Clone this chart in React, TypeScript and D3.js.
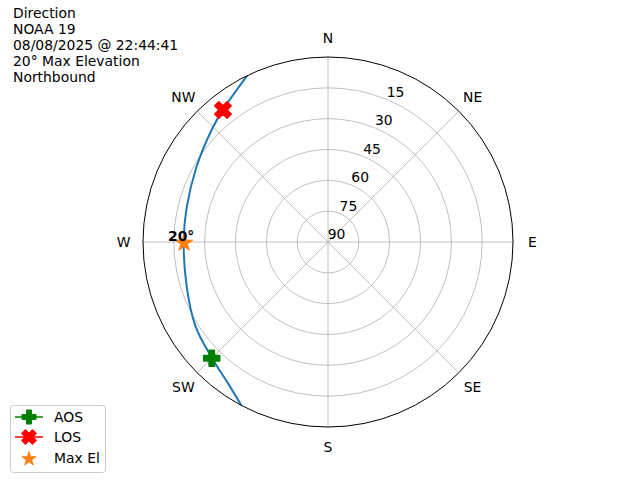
import React from "react";
import * as d3 from "d3";

const titleLines = ["Direction", "NOAA 19", "08/08/2025 @ 22:44:41", "20° Max Elevation", "Northbound"];
const dirLabels = ["N", "NE", "E", "SE", "S", "SW", "W", "NW"];
const dirAngles = [0, 45, 90, 135, 180, 225, 270, 315];
const elevTicks = [90, 75, 60, 45, 30, 15];
const trackAz = [207.9, 215, 225.4, 237.5, 252.4, 270.8, 284, 299.8, 313.9, 321.4, 334.1];
const trackEl = [0, 5.6, 10.3, 13.6, 17.9, 19.8, 19.2, 16.3, 11.4, 7.9, 0];
const aosPoint = { az: 225, el: 10 };
const losPoint = { az: 321.5, el: 7.9 };
const maxPoint = { az: 270, el: 20 };
const legendLabels = ["AOS", "LOS", "Max El"];

const W = 640, H = 480;
const cx = 328, cy = 242, R = 185;
const FONT = "DejaVu Sans";
const FS = 13.9;

const rScale = d3.scaleLinear().domain([90, 0]).range([0, R]);
const rad = (deg: number) => (deg * Math.PI) / 180;
const polar = (az: number, el: number): [number, number] => {
  const r = rScale(el);
  return [cx + r * Math.sin(rad(az)), cy - r * Math.cos(rad(az))];
};

function plusPath(s: number) {
  const a = s / 2, b = s / 6;
  const pts = [[-b, -a], [b, -a], [b, -b], [a, -b], [a, b], [b, b], [b, a], [-b, a], [-b, b], [-a, b], [-a, -b], [-b, -b]];
  return "M" + pts.map((p) => p.join(",")).join("L") + "Z";
}
function starPath(ro: number) {
  const ri = ro * 0.381966;
  const pts: string[] = [];
  for (let i = 0; i < 10; i++) {
    const r = i % 2 === 0 ? ro : ri;
    const ang = rad(i * 36);
    pts.push(`${r * Math.sin(ang)},${-r * Math.cos(ang)}`);
  }
  return "M" + pts.join("L") + "Z";
}

export default function App() {
  const line = d3
    .lineRadial<number>()
    .angle((_, i) => rad(trackAz[i]))
    .radius((_, i) => rScale(trackEl[i]))
    .curve(d3.curveCatmullRom);
  const trackD = line(trackAz) || "";
  const [ax, ay] = polar(aosPoint.az, aosPoint.el);
  const [lx, ly] = polar(losPoint.az, losPoint.el);
  const [mx, my] = polar(maxPoint.az, maxPoint.el);
  const legendY = [417, 437, 458];
  const legendColors = ["#008000", "#ff0000", "#ff7f0e"];

  return (
    <svg width={W} height={H} style={{ position: "absolute", left: 0, top: 0 }} fontFamily={FONT}>
      <rect width={W} height={H} fill="#fff" />
      <defs>
        <clipPath id="polarClip">
          <circle cx={cx} cy={cy} r={R} />
        </clipPath>
      </defs>
      {/* grid circles */}
      {elevTicks.filter((e) => e !== 90).map((e) => (
        <circle key={e} cx={cx} cy={cy} r={rScale(e)} fill="none" stroke="#b0b0b0" strokeWidth={0.8} />
      ))}
      {/* spokes */}
      {dirAngles.map((a) => {
        const [x2, y2] = polar(a, 0);
        return <line key={a} x1={cx} y1={cy} x2={x2} y2={y2} stroke="#b0b0b0" strokeWidth={0.8} />;
      })}
      {/* radial labels */}
      {elevTicks.map((e) => {
        const [x, y] = polar(22.5, e);
        return (
          <text key={e} x={x + 8.6} y={y - 7.6} fontSize={FS} textAnchor="middle" dominantBaseline="central" fill="#000">
            {e}
          </text>
        );
      })}
      {/* track */}
      <g clipPath="url(#polarClip)">
        <g transform={`translate(${cx},${cy})`}>
          <path d={trackD} fill="none" stroke="#1f77b4" strokeWidth={2} />
        </g>
      </g>
      {/* outer spine */}
      <circle cx={cx} cy={cy} r={R} fill="none" stroke="#000" strokeWidth={1} />
      {/* direction labels */}
      {dirLabels.map((l, i) => {
        const r = R + 19.5;
        const x = cx + r * Math.sin(rad(dirAngles[i]));
        const y = cy - r * Math.cos(rad(dirAngles[i]));
        return (
          <text key={l} x={x} y={y} fontSize={FS} textAnchor="middle" dominantBaseline="central">
            {l}
          </text>
        );
      })}
      {/* markers */}
      <path d={plusPath(16)} transform={`translate(${ax},${ay})`} fill="#008000" stroke="#008000" strokeWidth={1.5} strokeLinejoin="round" />
      <path d={plusPath(17.5)} transform={`translate(${lx},${ly}) rotate(45)`} fill="#ff0000" stroke="#ff0000" strokeWidth={1.5} strokeLinejoin="round" />
      <path d={starPath(9)} transform={`translate(${mx},${my + 1})`} fill="#ff7f0e" stroke="#ff7f0e" strokeWidth={1} strokeLinejoin="round" />
      <text x={mx - 3} y={my - 1.5} fontSize={FS} fontWeight="bold" textAnchor="middle">
        20°
      </text>
      {/* title */}
      {titleLines.map((t, i) => (
        <text key={i} x={13} y={17.5 + i * 16.2} fontSize={FS}>
          {t}
        </text>
      ))}
      {/* legend */}
      <rect x={10.5} y={405.5} width={95} height={67} rx={3} fill="#fff" fillOpacity={0.8} stroke="#cccccc" strokeWidth={1} />
      {legendLabels.map((l, i) => {
        const y = legendY[i];
        return (
          <g key={l}>
            {i < 2 && <line x1={15} x2={43} y1={y} y2={y} stroke={legendColors[i]} strokeWidth={1.5} />}
            {i === 0 && <path d={plusPath(13.5)} transform={`translate(29,${y})`} fill={legendColors[0]} stroke={legendColors[0]} strokeWidth={1.5} strokeLinejoin="round" />}
            {i === 1 && <path d={plusPath(15)} transform={`translate(29,${y}) rotate(45)`} fill={legendColors[1]} stroke={legendColors[1]} strokeWidth={1.5} strokeLinejoin="round" />}
            {i === 2 && <path d={starPath(7.3)} transform={`translate(29,${y + 1})`} fill={legendColors[2]} stroke={legendColors[2]} strokeWidth={1} strokeLinejoin="round" />}
            <text x={54} y={y + 5} fontSize={FS}>
              {l}
            </text>
          </g>
        );
      })}
    </svg>
  );
}
